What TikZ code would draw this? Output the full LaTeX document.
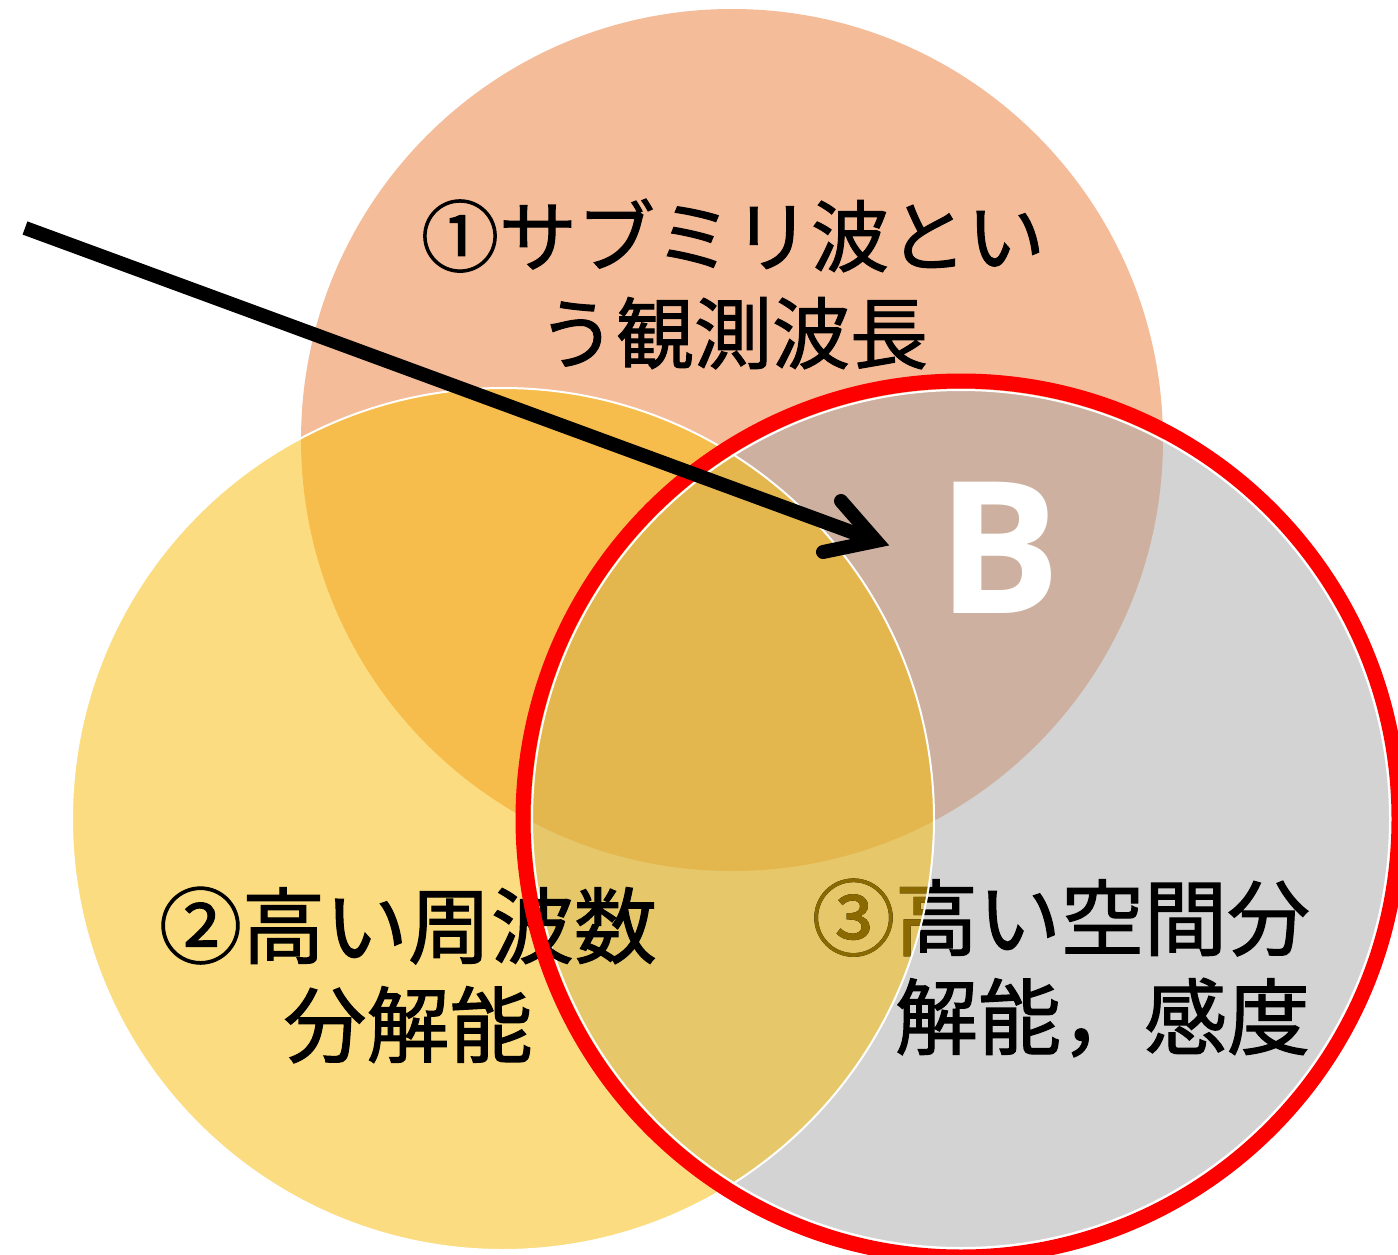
\documentclass[tikz,border=0pt]{standalone}
\usepackage{fontspec}
\newfontfamily\cjk{Noto Sans CJK JP}[FakeBold=1.3]
\newfontfamily\bfont{Open Sans}
\definecolor{cTop}{RGB}{244,188,152}
\definecolor{cYel}{RGB}{252,220,128}
\definecolor{cGry}{RGB}{211,211,211}
\definecolor{cTY}{RGB}{247,189,76}
\definecolor{cTG}{RGB}{205,176,160}
\definecolor{cYG}{RGB}{230,200,106}
\definecolor{cTYG}{RGB}{228,182,78}
\definecolor{cOlive}{RGB}{138,106,0}
\definecolor{cRed}{RGB}{255,0,0}
\tikzset{
  lbltop/.style={inner sep=0pt, align=center, font=\cjk\fontsize{78}{97}\selectfont},
  lblbig/.style={inner sep=0pt, align=center, font=\cjk\fontsize{83}{99}\selectfont},
  lblright/.style={inner sep=0pt, align=right, font=\cjk\fontsize{83}{99}\selectfont},
  rimline/.style={draw=white, line width=2pt},
  redring/.style={draw=cRed, line width=15pt},
  arrowline/.style={draw=black, line width=14pt, line cap=butt},
  arrowbarb/.style={draw=black, line width=14pt, line cap=round, line join=miter}
}
\begin{document}
\begin{tikzpicture}[x=1pt,y=-1pt]
\useasboundingbox[fill=white] (0,0) rectangle (1398,1255);
\coordinate (T) at (732,440);
\coordinate (Y) at (503,819);
\coordinate (G) at (961,819);
% base fills
\fill[cTop] (T) circle[radius=431];
\fill[cYel] (Y) circle[radius=431];
\fill[cGry] (G) circle[radius=429];
% pairwise overlaps
\begin{scope}
  \clip (T) circle[radius=431];
  \fill[cTY] (Y) circle[radius=431];
  \fill[cTG] (G) circle[radius=429];
\end{scope}
\begin{scope}
  \clip (Y) circle[radius=431];
  \fill[cYG] (G) circle[radius=429];
\end{scope}
\begin{scope}
  \clip (T) circle[radius=431];
  \clip (Y) circle[radius=431];
  \fill[cTYG] (G) circle[radius=429];
\end{scope}
% label 3 (partly under the yellow circle)
\node[lblright, text=black] (t3) at (1061,968) {③高い空間分\\解能，感度};
\begin{scope}
  \clip (Y) circle[radius=431];
  \node[lblright, text=cOlive] (t3o) at (1061,968) {③高い空間分\\解能，感度};
\end{scope}
% white rims
\draw[rimline] (G) circle[radius=429];
\draw[rimline] (Y) circle[radius=431];
% labels
\node[lbltop] (t1) at (733,284) {①サブミリ波とい\\う観測波長};
\node[lblbig] (t2) at (408,975) {②高い周波数\\分解能};
\node[inner sep=0pt, text=white, font=\bfont\bfseries\fontsize{184}{184}\selectfont] (b) at (999,548) {B};
% red ring
\draw[redring] (G) circle[radius=438];
% arrow
\coordinate (astart) at (25,228);
\coordinate (atip) at (876,541);
\coordinate (barbA) at (841,501);
\coordinate (barbB) at (823,552);
\draw[arrowline] (astart) -- (atip);
\draw[arrowbarb] (barbA) -- (atip) -- (barbB);
\end{tikzpicture}
\end{document}
